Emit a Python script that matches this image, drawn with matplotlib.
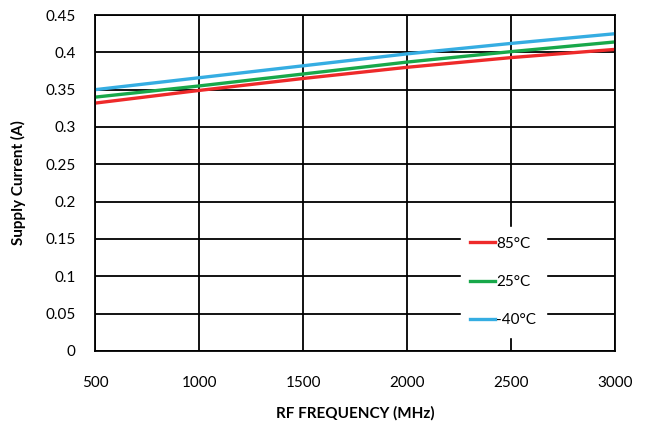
import matplotlib
matplotlib.use("Agg")
import matplotlib.pyplot as plt

plt.rcParams['font.family'] = ['Lato', 'DejaVu Sans']

# supply current vs RF frequency at three temperatures
freq = [500, 1000, 1500, 2000, 2500, 3000]
i_85 = [0.332, 0.349, 0.365, 0.380, 0.393, 0.404]
i_25 = [0.340, 0.355, 0.371, 0.387, 0.401, 0.414]
i_m40 = [0.350, 0.366, 0.382, 0.398, 0.412, 0.425]

fig = plt.figure(figsize=(6.51, 4.30), dpi=100)
ax = fig.add_axes([0.146, 0.184, 0.799, 0.781])

ax.plot(freq, i_85, color='#ee2a2a', lw=2.4, label='85°C')
ax.plot(freq, i_25, color='#18a84a', lw=2.4, label='25°C')
ax.plot(freq, i_m40, color='#35ade2', lw=2.4, label='-40°C')

ax.set_xlim(500, 3000)
ax.set_ylim(0, 0.45)
ax.set_xticks(range(500, 3001, 500))
ax.set_yticks([i * 0.05 for i in range(10)])
ax.set_yticklabels(['0', '0.05', '0.1', '0.15', '0.2', '0.25', '0.3', '0.35', '0.4', '0.45'])
ax.grid(True, color='black', lw=1.3)
ax.set_axisbelow(True)
ax.tick_params(length=0, labelsize=11)
ax.tick_params(axis='x', pad=18)
ax.tick_params(axis='y', pad=14)
for s in ax.spines.values():
    s.set_color('black')
    s.set_linewidth(1.3)

ax.set_xlabel('RF FREQUENCY (MHz)', fontsize=11, fontweight='bold', labelpad=12)
ax.set_ylabel('Supply Current (A)', fontsize=11, fontweight='bold', labelpad=14)

leg = ax.legend(loc='center', bbox_to_anchor=(0.785, 0.205), frameon=True,
                fancybox=False, edgecolor='white', facecolor='white', framealpha=1,
                fontsize=11, handlelength=1.6, handletextpad=0.1, labelspacing=1.6,
                borderpad=0.6)

fig.savefig('out.png', dpi=100)
